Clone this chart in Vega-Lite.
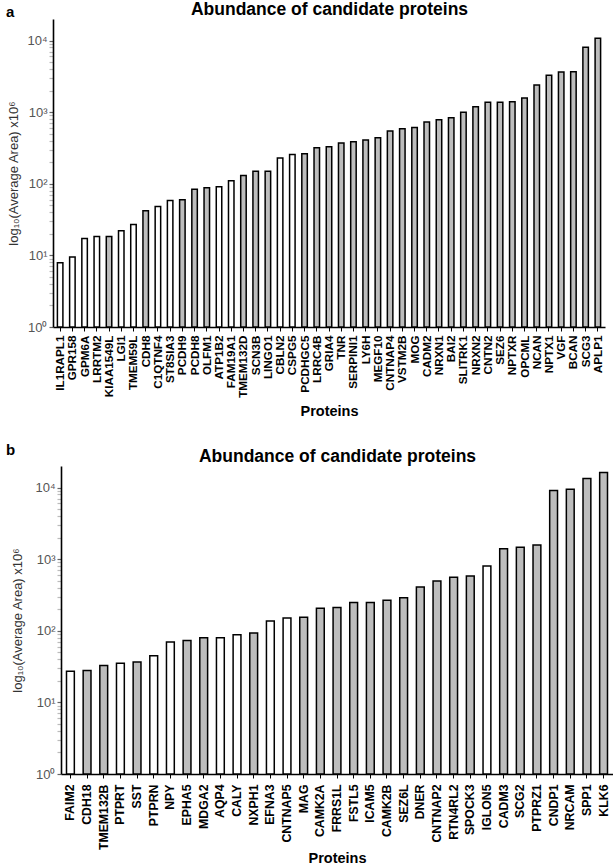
{
  "$schema": "https://vega.github.io/schema/vega-lite/v6.json",
  "padding": {"left": 5, "top": 0, "right": 0, "bottom": 0},
  "background": "white",
  "config": {
    "font": "Liberation Sans",
    "view": {"stroke": null},
    "title": {"font": "Liberation Sans", "color": "black"},
    "axis": {"labelFont": "Liberation Sans", "titleFont": "Liberation Sans"}
  },
  "datasets": {
    "a": [
      {"protein": "IL1RAPL1", "area": 7.9, "group": "A"},
      {"protein": "GPR158", "area": 9.5, "group": "A"},
      {"protein": "GPM6A", "area": 17.2, "group": "A"},
      {"protein": "LRRTM2", "area": 18.3, "group": "A"},
      {"protein": "KIAA1549L", "area": 18.3, "group": "B"},
      {"protein": "LGI1", "area": 22, "group": "A"},
      {"protein": "TMEM59L", "area": 27, "group": "A"},
      {"protein": "CDH8", "area": 42, "group": "B"},
      {"protein": "C1QTNF4", "area": 48, "group": "A"},
      {"protein": "ST8SIA3", "area": 58.5, "group": "A"},
      {"protein": "PCDH9", "area": 60, "group": "B"},
      {"protein": "PCDH8", "area": 84, "group": "B"},
      {"protein": "OLFM1", "area": 88, "group": "B"},
      {"protein": "ATP1B2", "area": 91, "group": "A"},
      {"protein": "FAM19A1", "area": 110, "group": "A"},
      {"protein": "TMEM132D", "area": 131, "group": "B"},
      {"protein": "SCN3B", "area": 150, "group": "B"},
      {"protein": "LINGO1", "area": 150, "group": "B"},
      {"protein": "CBLN2", "area": 229, "group": "A"},
      {"protein": "CSPG5", "area": 257, "group": "A"},
      {"protein": "PCDHGC5", "area": 263, "group": "B"},
      {"protein": "LRRC4B", "area": 319, "group": "B"},
      {"protein": "GRIA4", "area": 329, "group": "B"},
      {"protein": "TNR", "area": 371, "group": "B"},
      {"protein": "SERPINI1", "area": 387, "group": "B"},
      {"protein": "LY6H", "area": 408, "group": "B"},
      {"protein": "MEGF10", "area": 440, "group": "B"},
      {"protein": "CNTNAP4", "area": 545, "group": "B"},
      {"protein": "VSTM2B", "area": 588, "group": "B"},
      {"protein": "MOG", "area": 613, "group": "B"},
      {"protein": "CADM2", "area": 728, "group": "B"},
      {"protein": "NRXN1", "area": 785, "group": "B"},
      {"protein": "BAI2", "area": 837, "group": "B"},
      {"protein": "SLITRK1", "area": 995, "group": "B"},
      {"protein": "NRXN2", "area": 1194, "group": "B"},
      {"protein": "CNTN2", "area": 1372, "group": "B"},
      {"protein": "SEZ6", "area": 1372, "group": "B"},
      {"protein": "NPTXR", "area": 1403, "group": "B"},
      {"protein": "OPCML", "area": 1578, "group": "B"},
      {"protein": "NCAN", "area": 2400, "group": "B"},
      {"protein": "NPTX1", "area": 3270, "group": "B"},
      {"protein": "VGF", "area": 3650, "group": "B"},
      {"protein": "BCAN", "area": 3680, "group": "B"},
      {"protein": "SCG3", "area": 8050, "group": "B"},
      {"protein": "APLP1", "area": 10770, "group": "B"}
    ],
    "b": [
      {"protein": "FAIM2", "area": 27.3, "group": "A"},
      {"protein": "CDH18", "area": 27.9, "group": "B"},
      {"protein": "TMEM132B", "area": 32.8, "group": "B"},
      {"protein": "PTPRT", "area": 35.3, "group": "A"},
      {"protein": "SST", "area": 36.5, "group": "B"},
      {"protein": "PTPRN", "area": 44.7, "group": "A"},
      {"protein": "NPY", "area": 69.5, "group": "A"},
      {"protein": "EPHA5", "area": 73.3, "group": "B"},
      {"protein": "MDGA2", "area": 79.8, "group": "B"},
      {"protein": "AQP4", "area": 79.8, "group": "A"},
      {"protein": "CALY", "area": 88, "group": "A"},
      {"protein": "NXPH1", "area": 93, "group": "B"},
      {"protein": "EFNA3", "area": 137, "group": "A"},
      {"protein": "CNTNAP5", "area": 151, "group": "A"},
      {"protein": "MAG", "area": 154, "group": "B"},
      {"protein": "CAMK2A", "area": 206, "group": "B"},
      {"protein": "FRRS1L", "area": 212, "group": "B"},
      {"protein": "FSTL5", "area": 249, "group": "B"},
      {"protein": "ICAM5", "area": 249, "group": "B"},
      {"protein": "CAMK2B", "area": 266, "group": "B"},
      {"protein": "SEZ6L", "area": 290, "group": "B"},
      {"protein": "DNER", "area": 408, "group": "B"},
      {"protein": "CNTNAP2", "area": 495, "group": "B"},
      {"protein": "RTN4RL2", "area": 558, "group": "B"},
      {"protein": "SPOCK3", "area": 582, "group": "B"},
      {"protein": "IGLON5", "area": 803, "group": "A"},
      {"protein": "CADM3", "area": 1403, "group": "B"},
      {"protein": "SCG2", "area": 1466, "group": "B"},
      {"protein": "PTPRZ1", "area": 1580, "group": "B"},
      {"protein": "CNDP1", "area": 9080, "group": "B"},
      {"protein": "NRCAM", "area": 9490, "group": "B"},
      {"protein": "SPP1", "area": 13370, "group": "B"},
      {"protein": "KLK6", "area": 16220, "group": "B"}
    ]
  },
  "spacing": 25,
  "vconcat": [
    {
      "width": 552,
      "height": 308,
      "title": {"text": "a", "anchor": "start", "frame": "bounds", "fontSize": 15, "fontWeight": "bold", "offset": -20, "dx": -2},
      "data": {"name": "a"},
      "resolve": {"axis": {"x": "independent"}},
      "layer": [
        {
          "mark": {"type": "bar", "stroke": "black", "strokeWidth": 1.5},
          "encoding": {
            "x": {"field": "protein", "type": "nominal", "sort": null, "title": "Proteins",
              "scale": {"paddingInner": 0.55, "paddingOuter": 0.36},
              "axis": {"orient": "bottom", "labelAngle": -90, "labelFontSize": 11.7, "labelFontWeight": "bold", "labelColor": "black", "labelPadding": 4,
                "ticks": true, "tickSize": 4, "tickColor": "black", "tickWidth": 1, "domain": true, "domainColor": "black", "domainWidth": 1.6,
                "titleFontSize": 14.5, "titleFontWeight": "bold", "titleColor": "black", "titlePadding": 7}},
            "y": {"field": "area", "type": "quantitative", "title": "log₁₀(Average Area) x10⁶",
              "scale": {"type": "log", "domain": [1, 20000], "nice": false},
              "axis": {"values": [1,2,3,4,5,6,7,8,9,10,20,30,40,50,60,70,80,90,100,200,300,400,500,600,700,800,900,1000,2000,3000,4000,5000,6000,7000,8000,9000,10000],
                "labelExpr": "datum.value == 1 ? '10⁰' : datum.value == 10 ? '10¹' : datum.value == 100 ? '10²' : datum.value == 1000 ? '10³' : datum.value == 10000 ? '10⁴' : ''",
                "labelOverlap": false, "labelFlush": false, "labelFontSize": 13, "labelColor": "#555555", "labelPadding": 2,
                "ticks": true, "tickSize": 4,
                "tickColor": {"condition": {"test": "datum.value == 1 || datum.value == 10 || datum.value == 100 || datum.value == 1000 || datum.value == 10000", "value": "#666666"}, "value": "#bbbbbb"},
                "tickWidth": 1.2, "domain": true, "domainColor": "black", "domainWidth": 1.6, "grid": false,
                "titleFontSize": 13, "titleFontWeight": "normal", "titleColor": "#333333", "titlePadding": 6}},
            "y2": {"datum": 1},
            "fill": {"field": "group", "type": "nominal", "legend": null, "scale": {"domain": ["A", "B"], "range": ["#ffffff", "#bdbdbd"]}}
          }
        },
        {
          "mark": {"type": "bar", "opacity": 0},
          "encoding": {
            "x": {"field": "protein", "type": "nominal", "sort": null, "title": "Abundance of candidate proteins",
              "scale": {"paddingInner": 0.55, "paddingOuter": 0.36},
              "axis": {"orient": "top", "labels": false, "ticks": false, "domain": false,
                "titleFontSize": 17.5, "titleFontWeight": "bold", "titleColor": "black", "titlePadding": 1}},
            "y": {"field": "area", "type": "quantitative", "title": "log₁₀(Average Area) x10⁶",
              "scale": {"type": "log", "domain": [1, 20000], "nice": false}},
            "y2": {"datum": 1}
          }
        }
      ]
    },
    {
      "width": 560,
      "height": 308,
      "title": {"text": "b", "anchor": "start", "frame": "bounds", "fontSize": 15, "fontWeight": "bold", "offset": -11, "dx": -6},
      "data": {"name": "b"},
      "resolve": {"axis": {"x": "independent"}},
      "layer": [
        {
          "mark": {"type": "bar", "stroke": "black", "strokeWidth": 1.5},
          "encoding": {
            "x": {"field": "protein", "type": "nominal", "sort": null, "title": "Proteins",
              "scale": {"paddingInner": 0.53, "paddingOuter": 0.33, "range": [8, 560]},
              "axis": {"orient": "bottom", "labelAngle": -90, "labelFontSize": 12.3, "labelFontWeight": "bold", "labelColor": "black", "labelPadding": 6,
                "ticks": true, "tickSize": 4, "tickColor": "black", "tickWidth": 1, "domain": true, "domainColor": "black", "domainWidth": 1.6,
                "titleFontSize": 14.5, "titleFontWeight": "bold", "titleColor": "black", "titlePadding": 2}},
            "y": {"field": "area", "type": "quantitative", "title": "log₁₀(Average Area) x10⁶",
              "scale": {"type": "log", "domain": [1, 20000], "nice": false},
              "axis": {"offset": -8, "values": [1,2,3,4,5,6,7,8,9,10,20,30,40,50,60,70,80,90,100,200,300,400,500,600,700,800,900,1000,2000,3000,4000,5000,6000,7000,8000,9000,10000],
                "labelExpr": "datum.value == 1 ? '10⁰' : datum.value == 10 ? '10¹' : datum.value == 100 ? '10²' : datum.value == 1000 ? '10³' : datum.value == 10000 ? '10⁴' : ''",
                "labelOverlap": false, "labelFlush": false, "labelFontSize": 13, "labelColor": "#555555", "labelPadding": 2,
                "ticks": true, "tickSize": 4,
                "tickColor": {"condition": {"test": "datum.value == 1 || datum.value == 10 || datum.value == 100 || datum.value == 1000 || datum.value == 10000", "value": "#666666"}, "value": "#bbbbbb"},
                "tickWidth": 1.2, "domain": true, "domainColor": "black", "domainWidth": 1.6, "grid": false,
                "titleFontSize": 13, "titleFontWeight": "normal", "titleColor": "#333333", "titlePadding": 10}},
            "y2": {"datum": 1},
            "fill": {"field": "group", "type": "nominal", "legend": null, "scale": {"domain": ["A", "B"], "range": ["#ffffff", "#bdbdbd"]}}
          }
        },
        {
          "mark": {"type": "bar", "opacity": 0},
          "encoding": {
            "x": {"field": "protein", "type": "nominal", "sort": null, "title": "Abundance of candidate proteins",
              "scale": {"paddingInner": 0.53, "paddingOuter": 0.33, "range": [8, 560]},
              "axis": {"orient": "top", "labels": false, "ticks": false, "domain": false,
                "titleFontSize": 17.5, "titleFontWeight": "bold", "titleColor": "black", "titlePadding": 1}},
            "y": {"field": "area", "type": "quantitative", "title": "log₁₀(Average Area) x10⁶",
              "scale": {"type": "log", "domain": [1, 20000], "nice": false}},
            "y2": {"datum": 1}
          }
        }
      ]
    }
  ]
}
